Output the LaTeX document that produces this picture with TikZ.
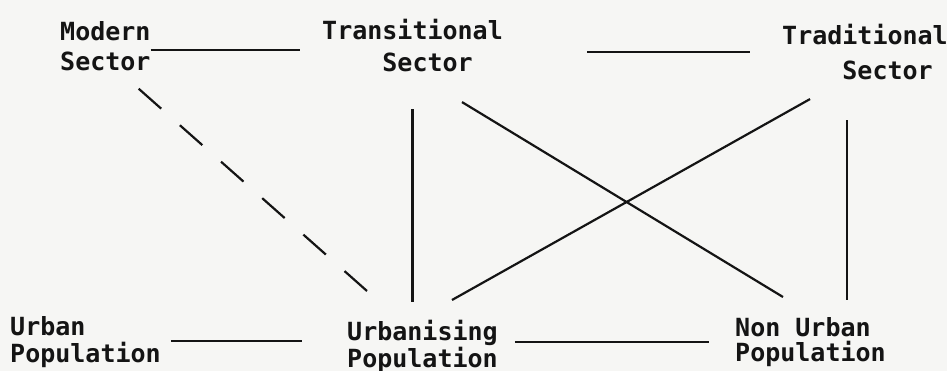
\documentclass[tikz,border=0pt]{standalone}
\usepackage{fontspec}
\newfontfamily\typefont{DejaVu Sans Mono}
\newcommand{\typewriter}[1]{\typefont\bfseries\fontsize{25}{#1}\selectfont}

\definecolor{paper}{RGB}{246,246,244}
\definecolor{ink}{RGB}{20,20,20}

\tikzset{
  term/.style={align=left, inner sep=0pt, anchor=north west, text=ink},
  link/.style={draw=ink, line width=2.2pt},
  weaklink/.style={link, dash pattern=on 30pt off 25pt}
}

\begin{document}
\begin{tikzpicture}[x=1pt, y=-1pt]
        \fill[paper] (0,0) rectangle (947,371);
        \useasboundingbox (0,0) rectangle (947,371);

        % Nodes
        \node (modern) [term, font={\typewriter{30}}] at (60,21) {Modern\\Sector};
        \node (transitional) [term, font={\typewriter{32}}] at (322,19) {Transitional\\\hphantom{Tran}Sector};
        \node (traditional) [term, font={\typewriter{35}}] at (782,24) {Traditional\\\hphantom{Trad}Sector};
        \node (urban) [term, font={\typewriter{27}}] at (10,316) {Urban\\Population};
        \node (urbanising) [term, font={\typewriter{23}}] at (347,320) {Urbanising\\Population};
        \node (nonurban) [term, font={\typewriter{25}}] at (735,317) {Non Urban\\Population};

        % Lines
        \draw[link] ([shift={(0,29)}]modern.north east) -- ([shift={(-22,31)}]transitional.north west);
        \draw[link] ([shift={(84,33)}]transitional.north east) -- ([shift={(-32,28)}]traditional.north west);
        \draw[weaklink] ([shift={(-12,18)}]modern.south east) -- ([shift={(20,-29)}]urbanising.north west);
        \draw[link, shorten <=37pt, shorten >=18pt] (transitional.south) -- (transitional.south |- urbanising.north);
        \draw[link] ([shift={(-41,30)}]transitional.south east) -- ([shift={(48,-20)}]nonurban.north west);
        \draw[link] ([shift={(105,-20)}]urbanising.north west) -- ([shift={(28,19)}]traditional.south west);
        \draw[link] ([shift={(65,40)}]traditional.south west) -- ([shift={(112,-17)}]nonurban.north west);
        \draw[link] ([shift={(10,25)}]urban.north east) -- ([shift={(-45,21)}]urbanising.north west);
        \draw[link] ([shift={(17,22)}]urbanising.north east) -- ([shift={(-26,25)}]nonurban.north west);
    \end{tikzpicture}
\end{document}
